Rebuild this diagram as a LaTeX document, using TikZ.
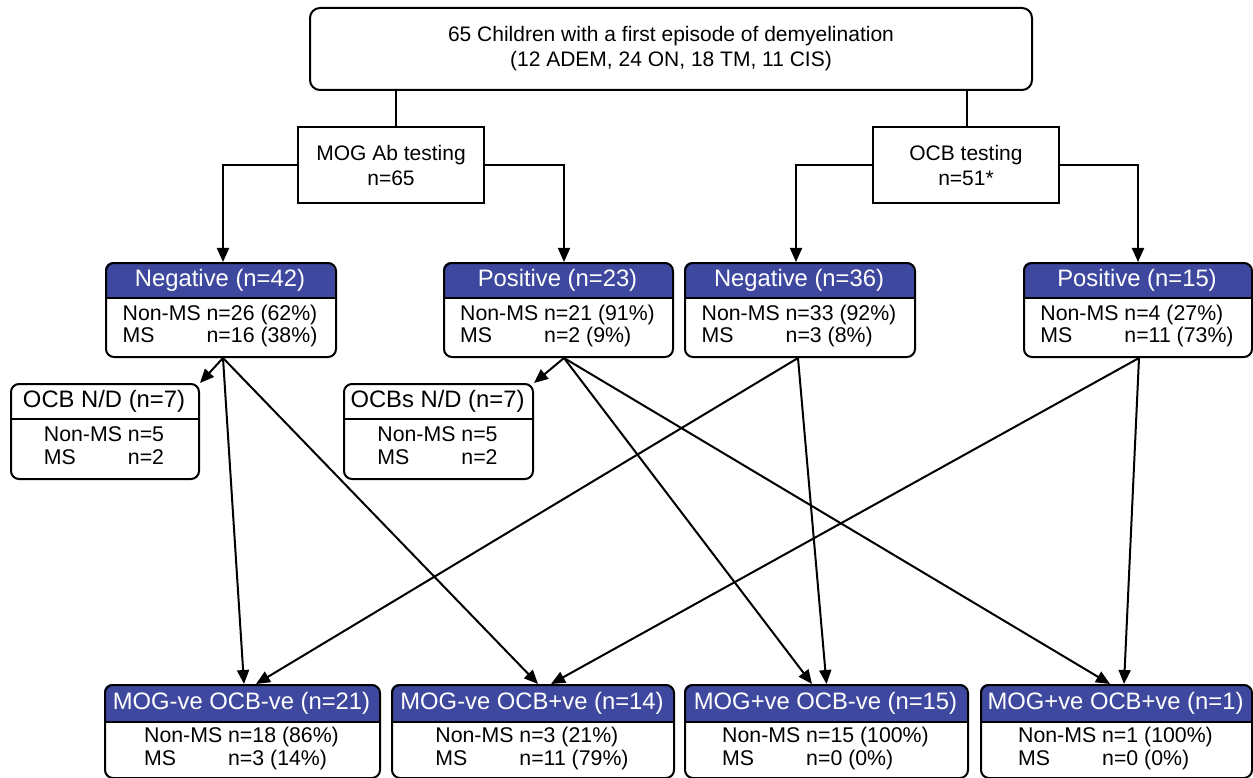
\documentclass[tikz,border=0pt]{standalone}
\usepackage{fontspec}
\setmainfont{Liberation Sans}
\usetikzlibrary{arrows.meta}
\definecolor{hdr}{RGB}{62,72,158}
\newcommand\bodyfont{\fontsize{21.3}{22.5}\selectfont}
\newcommand\hdrfont{\fontsize{23.8}{26}\selectfont}
\newcommand\topfont{\fontsize{21}{25}\selectfont}
\newcommand\msrows[2]{\begin{tabular}{@{}l@{\ }l@{}}Non-MS & #1\\MS & #2\end{tabular}}
\newcommand\msrowsr[2]{\begin{tabular}{@{}l@{\ }r@{}}Non-MS & #1\\MS & #2\end{tabular}}
\tikzset{
  plain/.style={line width=2pt},
  conn/.style={line width=2pt,-{Triangle[length=14pt,width=12pt]}},
  fill-blue/.style={fill=hdr},
  txt-blue/.style={text=white},
  fill-plain/.style={fill=white},
  txt-plain/.style={text=black},
}
% #1 name, #2 x1, #3 x2, #4 y1, #5 yh, #6 y2, #7 header, #8 body, #9 kind
\newcommand\catbox[9]{%
  \begin{scope}
    \clip[rounded corners=8pt] (#2,#4) rectangle (#3,#6);
    \fill[fill-#9] (#2,#4) rectangle (#3,#5);
  \end{scope}
  \draw[plain] (#2,#5) -- (#3,#5);
  \node[draw,plain,rounded corners=8pt,inner sep=0pt,anchor=north west,
        minimum width={(#3-#2)*1pt},minimum height={(#6-#4)*1pt}] (#1) at (#2,#4) {};
  \node[txt-#9,font=\hdrfont,inner sep=0pt] (#1h) at ({(#2+#3)/2},{(#4+#5)/2}) {#7};
  \node[font=\bodyfont,inner sep=0pt] (#1b) at ({(#2+#3)/2},{(#5+#6)/2}) {#8};
}
\begin{document}
\begin{tikzpicture}[x=1pt,y=-1pt]
\useasboundingbox (0,0) rectangle (1253,778);

\node[draw,plain,rounded corners=10pt,minimum width=722pt,minimum height=82pt,
      align=center,font=\topfont,inner sep=0pt] (top) at (671,49)
  {65 Children with a first episode of demyelination\\(12 ADEM, 24 ON, 18 TM, 11 CIS)};

\node[draw,plain,minimum width=186pt,minimum height=76pt,align=center,
      font=\topfont,inner sep=0pt] (mog) at (391,165) {MOG Ab testing\\n=65};
\node[draw,plain,minimum width=186pt,minimum height=76pt,align=center,
      font=\topfont,inner sep=0pt] (ocb) at (966,165) {OCB testing\\n=51*};

\catbox{n42}{105}{335}{262}{298}{356}{Negative (n=42)}{\msrows{n=26 (62\%)}{n=16 (38\%)}}{blue}
\catbox{p23}{443}{672}{262}{298}{356}{Positive (n=23)}{\msrows{n=21 (91\%)}{n=2 (9\%)}}{blue}
\catbox{n36}{684}{914}{262}{298}{356}{Negative (n=36)}{\msrows{n=33 (92\%)}{n=3 (8\%)}}{blue}
\catbox{p15}{1023}{1251}{262}{298}{356}{Positive (n=15)}{\msrows{n=4 (27\%)}{n=11 (73\%)}}{blue}

\catbox{nd1}{10}{198}{383}{419}{478}{OCB N/D (n=7)}{\msrowsr{n=5}{n=2}}{plain}
\catbox{nd2}{343}{532}{383}{419}{478}{OCBs N/D (n=7)}{\msrowsr{n=5}{n=2}}{plain}

\catbox{b1}{104}{379}{684}{722}{777}{MOG-ve OCB-ve (n=21)}{\msrows{n=18 (86\%)}{n=3 (14\%)}}{blue}
\catbox{b2}{391}{673}{684}{722}{777}{MOG-ve OCB+ve (n=14)}{\msrows{n=3 (21\%)}{n=11 (79\%)}}{blue}
\catbox{b3}{684}{967}{684}{722}{777}{MOG+ve OCB-ve (n=15)}{\msrows{n=15 (100\%)}{n=0 (0\%)}}{blue}
\catbox{b4}{980}{1251}{684}{722}{777}{MOG+ve OCB+ve (n=1)}{\msrows{n=1 (100\%)}{n=0 (0\%)}}{blue}

% top box to testing boxes
\draw[plain] ([xshift=5pt]mog.north) -- ([xshift=5pt]mog.north |- top.south);
\draw[plain] ([xshift=1pt]ocb.north) -- ([xshift=1pt]ocb.north |- top.south);

% testing boxes to results
\draw[conn] (mog.west) -| ([xshift=2pt]n42.north);
\draw[conn] (mog.east) -| ([xshift=5.5pt]p23.north);
\draw[conn] (ocb.west) -| ([xshift=-4pt]n36.north);
\draw[conn] (ocb.east) -| (p15.north);

% results to combined groups
\draw[conn] ([xshift=2pt]n42.south) -- (nd1.north east);
\draw[conn] ([xshift=2pt]n42.south) -- ([xshift=1.5pt]b1.north);
\draw[conn] ([xshift=2pt]n42.south) -- ([xshift=5pt]b2.north);
\draw[conn] ([xshift=5.5pt]p23.south) -- (nd2.north east);
\draw[conn] ([xshift=5.5pt]p23.south) -- ([xshift=-14.5pt]b3.north);
\draw[conn] ([xshift=5.5pt]p23.south) -- ([xshift=-6.5pt]b4.north);
\draw[conn] ([xshift=-2pt]n36.south) -- ([xshift=13.5pt]b1.north);
\draw[conn] ([xshift=-2pt]n36.south) -- (b3.north);
\draw[conn] ([xshift=1pt]p15.south) -- ([xshift=18pt]b2.north);
\draw[conn] ([xshift=1pt]p15.south) -- ([xshift=7.5pt]b4.north);
\end{tikzpicture}
\end{document}
